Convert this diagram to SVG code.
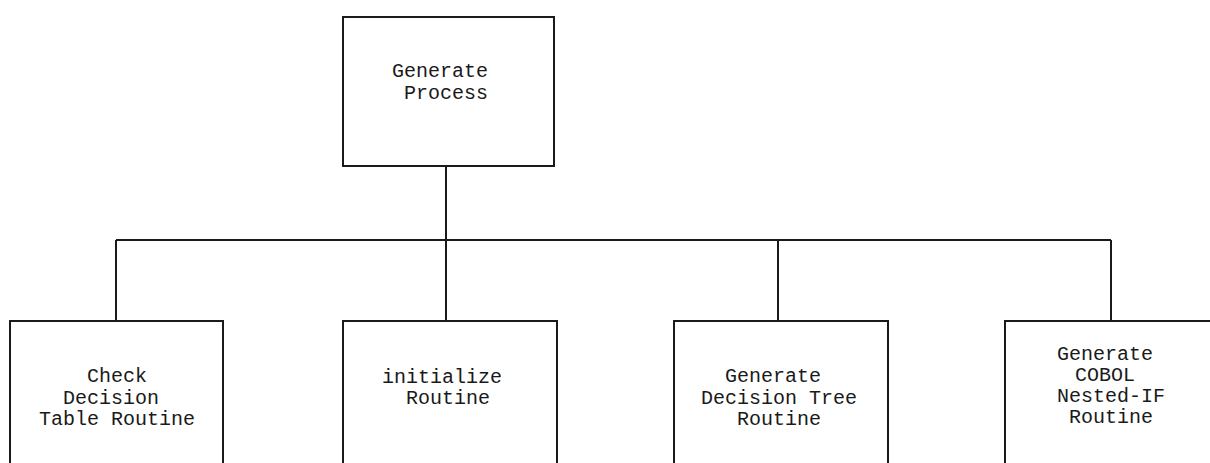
<svg xmlns="http://www.w3.org/2000/svg" width="1210" height="463" viewBox="0 0 1210 463">
<style>
.box{fill:#fff;stroke:#1a1a1a;stroke-width:2}
.ln{fill:none;stroke:#1a1a1a;stroke-width:2}
.t{font-family:"Liberation Mono","DejaVu Sans Mono",monospace;font-size:20px;fill:#1a1a1a;text-anchor:middle}
</style>
<rect width="1210" height="463" fill="#fff"/>
<g id="connectors">
<path class="ln" d="M446 166 V240"/>
<path class="ln" d="M116 240 H1111"/>
<path class="ln" d="M116 240 V321"/>
<path class="ln" d="M446 240 V321"/>
<path class="ln" d="M778 240 V321"/>
<path class="ln" d="M1111 240 V321"/>
</g>
<g id="generate-process">
<rect class="box" x="343" y="17" width="211" height="149"/>
<text class="t" x="440" y="77">Generate</text>
<text class="t" x="446" y="99">Process</text>
</g>
<g id="check-decision-table">
<rect class="box" x="10" y="321" width="213" height="160"/>
<text class="t" x="117" y="382">Check</text>
<text class="t" x="111" y="404">Decision</text>
<text class="t" x="117" y="425">Table Routine</text>
</g>
<g id="initialize-routine">
<rect class="box" x="343" y="321" width="214" height="160"/>
<text class="t" x="442" y="383">initialize</text>
<text class="t" x="448" y="404">Routine</text>
</g>
<g id="generate-decision-tree">
<rect class="box" x="674" y="321" width="214" height="160"/>
<text class="t" x="773" y="382">Generate</text>
<text class="t" x="779" y="404">Decision Tree</text>
<text class="t" x="779" y="425">Routine</text>
</g>
<g id="generate-cobol">
<rect class="box" x="1005" y="321" width="230" height="160"/>
<text class="t" x="1105" y="360">Generate</text>
<text class="t" x="1105" y="381">COBOL</text>
<text class="t" x="1111" y="402">Nested-IF</text>
<text class="t" x="1111" y="423">Routine</text>
</g>
</svg>
